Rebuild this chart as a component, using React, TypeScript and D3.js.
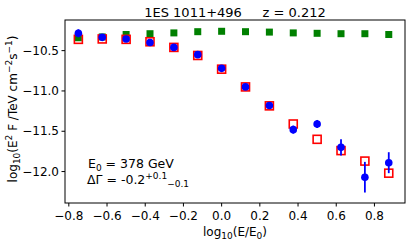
import React from 'react';
import * as d3 from 'd3';

// log10(E/E0) bins
const xBins = [-0.75, -0.625, -0.5, -0.375, -0.25, -0.125, 0, 0.125, 0.25, 0.375, 0.5, 0.625, 0.75, 0.875];
// intrinsic (green filled squares)
const intrinsic = [-10.34, -10.33, -10.3, -10.29, -10.28, -10.265, -10.26, -10.265, -10.27, -10.28, -10.285, -10.29, -10.29, -10.3];
// model (red open squares)
const model = [-10.36, -10.355, -10.36, -10.39, -10.46, -10.56, -10.73, -10.95, -11.185, -11.41, -11.6, -11.74, -11.87, -12.02];
// observed (blue points) with symmetric errors
const observed = [-10.285, -10.335, -10.355, -10.4, -10.46, -10.55, -10.72, -10.95, -11.18, -11.48, -11.41, -11.7, -12.07, -11.89];
const observedErr = [0.05, 0.02, 0.02, 0.02, 0.02, 0.02, 0.02, 0.02, 0.02, 0.05, 0.05, 0.1, 0.19, 0.13];

const xTicks = [-0.8, -0.6, -0.4, -0.2, 0.0, 0.2, 0.4, 0.6, 0.8];
const yTicks = [-10.5, -11.0, -11.5, -12.0];

const App = () => {
  const width = 415;
  const height = 247;
  const marginLeft = 65;
  const marginRight = 10;
  const marginTop = 20;
  const marginBottom = 44;

  const x = d3.scaleLinear([-0.82, 0.96], [marginLeft, width - marginRight]);
  const y = d3.scaleLinear([-12.39, -10.12], [height - marginBottom, marginTop]);

  const font = 'DejaVu Sans, sans-serif';
  const fmtX = (d: number) => d3.format('.1f')(d).replace('-', '\u2212');

  return (
    <svg width={width} height={height} style={{ position: 'absolute', left: 0, top: 0, background: '#fff' }} fontFamily={font}>
      <text x={235} y={16.5} fontSize={13} textAnchor="middle" xmlSpace="preserve">
        {'1ES 1011+496     z = 0.212'}
      </text>

      {/* green */}
      {xBins.map((d, i) => (
        <rect key={'g' + i} x={x(d) - 3.5} y={y(intrinsic[i]) - 3.5} width={7} height={7} fill="green" />
      ))}
      {/* red open squares */}
      {xBins.map((d, i) => (
        <rect key={'r' + i} x={x(d) - 4} y={y(model[i]) - 4} width={8} height={8} fill="none" stroke="red" strokeWidth={1.6} />
      ))}
      {/* blue points */}
      {xBins.map((d, i) => (
        <g key={'b' + i}>
          <line x1={x(d)} x2={x(d)} y1={y(observed[i] - observedErr[i])} y2={y(observed[i] + observedErr[i])} stroke="blue" strokeWidth={1.8} />
          <circle cx={x(d)} cy={y(observed[i])} r={3.8} fill="blue" />
        </g>
      ))}

      {/* frame */}
      <rect x={marginLeft} y={marginTop} width={width - marginRight - marginLeft} height={height - marginBottom - marginTop} fill="none" stroke="black" strokeWidth={1} />

      {/* x axis */}
      {xTicks.map(t => (
        <g key={'xt' + t} transform={`translate(${x(t)},${height - marginBottom})`}>
          <line y2={3.5} stroke="black" />
          <text y={17} fontSize={12} textAnchor="middle">{fmtX(t)}</text>
        </g>
      ))}
      <text x={235} y={236} fontSize={12} textAnchor="middle">
        log<tspan dy={3} fontSize={9}>10</tspan><tspan dy={-3}>(E/E</tspan><tspan dy={3} fontSize={9}>0</tspan><tspan dy={-3}>)</tspan>
      </text>

      {/* y axis */}
      {yTicks.map(t => (
        <g key={'yt' + t} transform={`translate(${marginLeft},${y(t)})`}>
          <line x2={-3.5} stroke="black" />
          <text x={-6} dy="0.35em" fontSize={12} textAnchor="end">{d3.format('.1f')(t)}</text>
        </g>
      ))}
      <text transform={`translate(16.5,109) rotate(-90)`} fontSize={12} textAnchor="middle">
        log<tspan dy={3} fontSize={9}>10</tspan><tspan dy={-3}>(E</tspan><tspan dy={-5} fontSize={9}>2</tspan><tspan dy={5}> F /TeV cm</tspan><tspan dy={-5} fontSize={9}>−2</tspan><tspan dy={5}>s</tspan><tspan dy={-5} fontSize={9}>−1</tspan><tspan dy={5}>)</tspan>
      </text>

      {/* annotation */}
      <text x={88} y={168} fontSize={12.5}>
        E<tspan dy={3} fontSize={9}>0</tspan><tspan dy={-3}> = 378 GeV</tspan>
      </text>
      <text x={87} y={184} fontSize={12.5}>
        ΔΓ = -0.2<tspan dy={-5} fontSize={9}>+0.1</tspan><tspan dy={8} fontSize={9}>−0.1</tspan>
      </text>
    </svg>
  );
};

export default App;
